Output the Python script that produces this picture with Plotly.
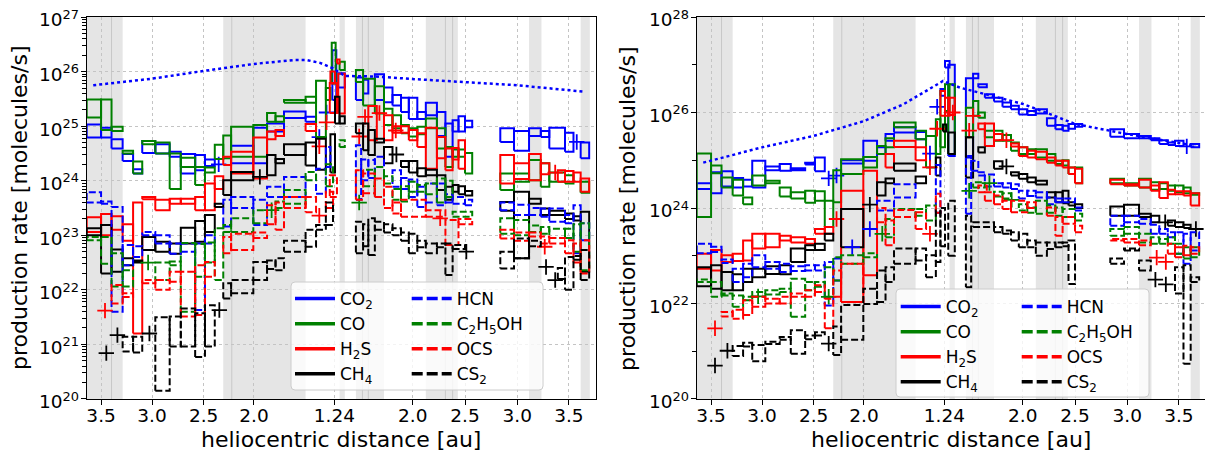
import plotly.graph_objects as go

# ---------------- axis definitions (x = days from perihelion) ----------------
TICK_DAYS = [-357, -279, -200, -123, 0, 120, 200, 280, 359]
TICK_LABELS = ['3.5', '3.0', '2.5', '2.0', '1.24', '2.0', '2.5', '3.0', '3.5']
X_RANGE = [-379, 400]

# shaded intervals (days) and interval boundaries
BANDS = [(-379, -324), (-170, -44), (8, 16), (33, 76), (140, 189), (298, 317), (377, 391)]
BAND_LINES = [-341, -157, 43, 52, 170, 181]

# dotted reference curves (days, log10 rate)
L_REF_T = [-369, -279, -201, -123, -63, -42, -22, -2, 16, 62, 125, 200, 279, 384]
L_REF_V = [25.75, 25.87, 26.01, 26.14, 26.21, 26.21, 26.16, 26.06, 25.92, 25.91, 25.86, 25.80, 25.75, 25.63]
R_REF_T = [-369, -279, -200, -123, -63, -2, 24, 70, 120, 161, 200, 279, 359, 384]
R_REF_V = [24.95, 25.27, 25.51, 25.82, 26.17, 26.66, 26.52, 26.35, 26.18, 25.97, 25.76, 25.55, 25.37, 25.30]

# ---------------- left panel: boxes (t0, t1, log10 low, log10 high) ----------------
L_CO2 = [(-379, -357, 24.79, 25.03), (-357, -341, 24.79, 24.97), (-341, -324, 24.59, 24.76),
         (-324, -308, 24.36, 24.49), (-308, -294, 24.13, 24.21), (-294, -274, 24.51, 24.73),
         (-274, -252, 24.50, 24.67), (-252, -235, 24.44, 24.53), (-235, -213, 24.13, 24.49),
         (-213, -198, 24.19, 24.47), (-198, -183, 24.27, 24.39), (-158, -124, 24.32, 24.64),
         (-124, -103, 24.32, 24.97), (-103, -77, 24.90, 25.05), (-77, -44, 25.15, 25.27),
         (-44, -28, 25.08, 25.17), (-3, 3, 25.48, 26.39), (6, 16, 25.71, 25.97),
         (33, 44, 25.48, 25.89), (44, 52, 25.60, 25.85), (62, 76, 25.48, 25.95),
         (76, 89, 25.44, 25.71), (89, 102, 25.38, 25.57), (102, 114, 25.26, 25.52),
         (114, 127, 25.13, 25.52), (127, 140, 25.13, 25.26), (140, 157, 25.20, 25.43),
         (157, 170, 24.82, 25.26), (170, 181, 24.44, 25.05), (181, 190, 24.90, 25.11),
         (190, 200, 24.90, 25.18), (200, 211, 24.98, 25.10), (254, 275, 24.71, 24.96),
         (275, 298, 24.55, 24.91), (298, 316, 24.82, 24.96), (316, 329, 24.80, 24.91),
         (329, 353, 24.59, 24.97), (353, 366, 24.53, 24.88), (377, 390, 24.41, 24.70)]
L_CO2_PTS = [(-177, 24.30), (-23, 24.80), (-12, 25.25), (371, 24.71)]

L_CO = [(-379, -357, 25.16, 25.49), (-357, -341, 24.93, 25.49), (-341, -324, 24.91, 24.99),
        (-324, -308, 24.50, 24.55), (-308, -294, 24.13, 24.35), (-294, -274, 24.67, 24.73),
        (-274, -252, 24.50, 24.70), (-252, -235, 23.85, 24.50), (-235, -213, 24.25, 24.42),
        (-213, -198, 23.92, 24.25), (-198, -183, 24.15, 24.24), (-183, -170, 24.40, 24.66),
        (-170, -158, 24.41, 24.83), (-158, -124, 24.44, 24.99), (-124, -103, 24.44, 25.02),
        (-103, -90, 25.08, 25.24), (-90, -77, 25.08, 25.18), (-77, -44, 25.43, 25.48),
        (-44, -28, 25.43, 25.54), (-28, -13, 24.80, 25.83), (-13, -6, 25.48, 25.70),
        (-4, 2, 25.78, 26.53), (8, 16, 26.03, 26.18), (33, 44, 25.81, 26.03),
        (44, 62, 25.38, 25.87), (62, 76, 25.23, 25.73), (76, 89, 25.02, 25.32),
        (89, 102, 24.96, 25.20), (102, 114, 24.87, 25.02), (114, 127, 24.81, 24.96),
        (127, 140, 24.85, 24.99), (140, 157, 24.96, 25.14), (157, 170, 24.59, 24.96),
        (170, 181, 24.25, 24.62), (181, 190, 24.44, 24.57), (190, 200, 24.44, 24.57),
        (200, 211, 24.13, 24.51), (254, 275, 23.83, 24.13), (275, 298, 23.98, 24.13),
        (298, 316, 24.01, 24.38), (316, 329, 23.89, 24.32), (329, 353, 23.98, 24.15),
        (353, 366, 23.95, 24.10), (377, 390, 23.78, 23.98)]
L_CO_PTS = []

L_H2S = [(-379, -357, 23.06, 23.33), (-357, -341, 23.00, 23.39), (-341, -324, 23.10, 23.35),
         (-324, -308, 22.90, 23.20), (-308, -294, 21.20, 23.60), (-294, -274, 23.66, 23.70),
         (-274, -252, 23.46, 23.65), (-252, -235, 23.58, 23.67), (-235, -213, 23.58, 23.67),
         (-213, -198, 23.46, 23.70), (-198, -183, 23.46, 23.95), (-183, -170, 23.85, 24.08),
         (-170, -158, 24.29, 24.44), (-158, -124, 24.13, 24.53), (-124, -103, 24.04, 24.79),
         (-103, -90, 24.76, 24.90), (-90, -77, 24.82, 24.93), (-44, -28, 24.91, 25.04),
         (-6, 1, 25.78, 26.00), (4, 8, 26.15, 26.22), (-7, 4, 25.24, 25.79), (6, 16, 25.23, 25.96),
         (52, 65, 24.74, 25.37), (76, 89, 24.74, 25.20), (89, 102, 24.88, 25.00),
         (102, 114, 24.88, 25.00), (114, 127, 24.74, 24.93), (127, 140, 24.62, 24.87),
         (140, 157, 24.22, 24.97), (157, 170, 24.41, 24.80), (170, 181, 24.19, 24.59),
         (181, 190, 24.39, 24.60), (190, 200, 24.22, 24.74), (254, 275, 23.95, 24.47),
         (275, 298, 24.03, 24.32), (298, 316, 24.01, 24.49), (316, 329, 24.12, 24.32),
         (342, 353, 23.98, 24.19), (353, 366, 23.98, 24.18), (366, 377, 23.98, 24.15),
         (377, 390, 23.80, 24.04)]
L_H2S_PTS = [(-12, 25.07), (-23, 24.63), (47, 25.17), (38, 24.81), (69, 25.24), (94, 24.92), (338, 24.15)]

L_CH4 = [(-379, -357, 23.00, 23.13), (-357, -341, 22.30, 23.19), (-341, -324, 22.33, 22.74),
         (-324, -308, 22.45, 22.58), (-308, -294, 22.50, 22.54), (-294, -274, 22.73, 22.97),
         (-274, -252, 22.70, 22.88), (-252, -235, 22.66, 22.85), (-235, -213, 22.85, 23.14),
         (-213, -198, 22.88, 23.26), (-198, -183, 23.06, 23.37), (-183, -170, 23.52, 23.58),
         (-170, -158, 23.74, 24.01), (-158, -124, 24.01, 24.16), (-103, -90, 24.10, 24.47),
         (-90, -77, 24.32, 24.40), (-77, -44, 24.47, 24.67), (-44, -28, 24.28, 24.70),
         (-28, -13, 24.20, 24.77), (-6, 1, 24.15, 24.85), (1, 8, 25.05, 25.54),
         (8, 16, 25.05, 25.18), (33, 44, 24.87, 25.05), (44, 52, 24.56, 25.05),
         (52, 62, 24.47, 24.93), (62, 76, 24.70, 24.77), (76, 89, 24.32, 24.62),
         (102, 114, 24.25, 24.36), (114, 127, 24.15, 24.36), (127, 140, 24.08, 24.23),
         (140, 157, 24.10, 24.20), (157, 170, 23.83, 24.10), (170, 181, 23.65, 23.89),
         (181, 190, 23.80, 23.92), (190, 200, 23.75, 23.90), (200, 211, 23.73, 23.81),
         (254, 275, 23.45, 23.61), (275, 298, 22.58, 23.80), (298, 316, 23.58, 23.67),
         (316, 329, 23.37, 23.49), (329, 353, 23.37, 23.45), (353, 366, 23.30, 23.40),
         (366, 377, 23.27, 23.35), (377, 390, 22.33, 23.43)]
L_CH4_PTS = [(-114, 24.07), (95, 24.48)]

L_HCN = [(-379, -357, 23.60, 23.79), (-357, -341, 23.58, 23.62), (-341, -324, 21.60, 23.52),
         (-324, -308, 22.45, 22.82), (-308, -294, 22.60, 22.80), (-294, -274, 23.00, 23.06),
         (-274, -252, 22.85, 23.00), (-252, -235, 22.66, 22.85), (-235, -213, 22.70, 22.85),
         (-213, -198, 21.63, 22.85), (-198, -183, 22.85, 23.00), (-170, -158, 23.16, 23.65),
         (-158, -124, 23.50, 23.70), (-124, -103, 23.19, 23.65), (-103, -77, 23.70, 23.89),
         (-77, -44, 23.70, 24.07), (-28, -13, 23.76, 24.22), (-13, -6, 24.25, 24.62),
         (33, 41, 23.65, 24.65), (41, 52, 24.01, 24.39), (52, 62, 24.05, 24.38),
         (62, 76, 23.70, 24.44), (89, 102, 23.89, 24.19), (102, 114, 23.85, 24.05),
         (114, 127, 23.70, 24.02), (127, 140, 23.52, 23.89), (140, 157, 23.60, 23.95),
         (157, 170, 23.55, 23.95), (170, 181, 23.60, 23.75), (181, 200, 23.58, 23.70),
         (200, 211, 23.55, 23.65), (254, 275, 23.46, 23.60), (275, 298, 23.37, 23.56),
         (298, 316, 23.37, 23.50), (316, 329, 23.34, 23.49), (329, 353, 23.25, 23.49),
         (353, 366, 23.22, 23.37), (366, 377, 22.67, 23.55), (377, 390, 22.91, 23.22)]
L_HCN_PTS = []

L_C2H5OH = [(-379, -357, 22.91, 22.97), (-357, -341, 22.48, 22.97), (-341, -324, 22.06, 22.67),
            (-324, -308, 22.06, 22.36), (-274, -252, 22.18, 22.50), (-252, -235, 22.45, 22.52),
            (-235, -213, 21.60, 22.86), (-213, -198, 22.24, 22.84), (-198, -183, 22.50, 22.87),
            (-183, -170, 22.18, 23.13), (-170, -158, 23.06, 23.19), (-158, -124, 23.06, 23.31),
            (-124, -103, 23.22, 23.46), (-90, -77, 23.50, 23.62), (-77, -44, 23.58, 23.83),
            (-44, -28, 24.01, 24.16), (-13, -2, 23.90, 24.30), (8, 16, 24.62, 24.74),
            (44, 62, 23.90, 24.20), (62, 76, 23.70, 24.25), (76, 89, 23.95, 24.08),
            (89, 102, 23.65, 23.85), (102, 114, 23.62, 23.90), (114, 127, 23.80, 23.98),
            (127, 140, 23.80, 23.92), (140, 157, 23.75, 23.95), (157, 170, 23.60, 24.04),
            (170, 181, 23.70, 24.00), (181, 211, 23.34, 23.43), (254, 275, 23.03, 23.31),
            (275, 298, 23.00, 23.28), (298, 316, 23.06, 23.18), (316, 329, 23.03, 23.15),
            (329, 353, 22.95, 23.12), (353, 366, 22.95, 23.12), (366, 377, 22.70, 23.20),
            (377, 390, 22.36, 23.22)]
L_C2H5OH_PTS = [(-285, 22.50), (-96, 23.46), (38, 23.60)]

L_OCS = [(-341, -324, 21.75, 22.09), (-324, -308, 21.87, 21.94), (-294, -274, 22.12, 22.18),
         (-274, -252, 22.00, 22.18), (-252, -235, 22.15, 22.33), (-235, -213, 21.51, 22.33),
         (-213, -198, 21.54, 22.45), (-198, -183, 22.24, 22.51), (-170, -158, 22.67, 22.97),
         (-158, -124, 22.73, 23.03), (-124, -103, 22.95, 23.05), (-103, -90, 23.20, 23.55),
         (-90, -77, 23.10, 23.60), (-77, -44, 23.50, 23.70), (-44, -28, 23.42, 23.70),
         (-13, -2, 23.50, 23.80), (-7, 4, 23.70, 24.10), (33, 44, 23.65, 24.19),
         (44, 62, 23.77, 24.13), (62, 76, 23.70, 24.04), (76, 89, 23.50, 23.89),
         (89, 102, 23.40, 23.60), (102, 140, 23.34, 23.65), (140, 170, 23.34, 23.46),
         (170, 190, 22.82, 23.28), (190, 211, 23.20, 23.30), (254, 275, 22.94, 23.10),
         (275, 298, 22.90, 23.05), (298, 316, 22.98, 23.05), (316, 329, 22.85, 22.98),
         (329, 353, 22.85, 22.95), (353, 366, 22.67, 22.91), (366, 377, 22.50, 22.85),
         (377, 390, 22.30, 22.91)]
L_OCS_PTS = [(-351, 21.62), (-23, 23.36), (162, 23.31), (322, 22.79)]

L_CS2 = [(-324, -308, 20.87, 21.14), (-308, -294, 20.85, 21.14), (-274, -252, 20.15, 21.50),
         (-252, -235, 20.96, 21.51), (-235, -213, 20.96, 21.66), (-213, -198, 20.77, 21.57),
         (-198, -183, 20.96, 21.72), (-170, -158, 21.84, 22.12), (-158, -124, 21.94, 22.18),
         (-124, -103, 22.18, 22.51), (-103, -90, 22.38, 22.54), (-90, -77, 22.36, 22.58),
         (-77, -44, 22.70, 22.90), (-44, -28, 22.79, 23.10), (-28, -13, 23.10, 23.19),
         (-13, -2, 23.19, 23.60), (33, 44, 22.67, 23.25), (44, 52, 22.80, 23.20),
         (52, 62, 22.64, 23.31), (62, 76, 23.10, 23.25), (76, 89, 23.05, 23.20),
         (89, 102, 23.00, 23.13), (102, 114, 22.90, 23.05), (114, 127, 22.67, 23.03),
         (127, 140, 22.78, 22.90), (140, 157, 22.67, 22.85), (157, 170, 22.78, 22.85),
         (170, 181, 22.27, 22.85), (181, 200, 22.75, 22.82), (254, 275, 22.39, 22.70),
         (275, 298, 22.58, 22.94), (298, 316, 22.80, 22.90), (342, 353, 22.20, 22.40),
         (353, 366, 22.00, 22.60), (366, 377, 22.55, 22.62), (377, 390, 22.18, 22.73)]
L_CS2_PTS = [(-349, 20.84), (-332, 21.17), (-283, 21.20), (-176, 21.63), (202, 22.70), (324, 22.42), (338, 22.18)]

# ---------------- right panel ----------------
R_CO2 = [(-379, -357, 24.40, 24.52), (-357, -341, 24.31, 24.75), (-341, -324, 24.45, 24.77),
         (-324, -308, 24.43, 24.63), (-308, -294, 24.45, 24.59), (-294, -274, 24.43, 24.99),
         (-274, -252, 24.79, 24.87), (-252, -235, 24.78, 24.92), (-235, -213, 24.79, 24.83),
         (-213, -198, 24.91, 24.95), (-198, -183, 24.77, 25.06), (-158, -124, 24.93, 25.00),
         (-124, -103, 24.99, 25.41), (-103, -90, 25.13, 25.27), (-90, -77, 25.41, 25.55),
         (-77, -44, 25.58, 25.69), (-44, -28, 25.44, 25.59), (-6, 1, 26.35, 26.49),
         (1, 8, 26.94, 27.08), (6, 16, 25.09, 27.00), (33, 44, 25.06, 26.72),
         (44, 52, 26.72, 26.81), (52, 65, 26.53, 26.59), (62, 76, 26.31, 26.38),
         (76, 89, 26.23, 26.31), (89, 102, 26.12, 26.21), (102, 114, 26.07, 26.14),
         (114, 127, 25.96, 26.07), (127, 140, 25.95, 26.03), (140, 157, 25.98, 26.07),
         (157, 170, 25.72, 25.88), (170, 181, 25.65, 25.74), (181, 190, 25.62, 25.72),
         (190, 200, 25.66, 25.76), (200, 211, 25.70, 25.76), (254, 275, 25.49, 25.65),
         (275, 298, 25.46, 25.55), (298, 316, 25.46, 25.51), (316, 329, 25.42, 25.46),
         (329, 342, 25.34, 25.42), (342, 353, 25.32, 25.37), (353, 366, 25.30, 25.41),
         (377, 390, 25.27, 25.34)]
R_CO2_PTS = [(-177, 24.62), (-165, 24.68), (-22, 25.14), (-11, 26.12), (371, 25.29)]

R_CO = [(-379, -357, 23.81, 25.14), (-357, -341, 24.73, 24.89), (-341, -324, 24.43, 24.64),
        (-324, -308, 24.26, 24.59), (-308, -294, 24.08, 24.22), (-294, -274, 24.47, 24.68),
        (-274, -252, 24.52, 24.57), (-252, -235, 24.24, 24.43), (-235, -213, 24.20, 24.33),
        (-213, -198, 24.11, 24.36), (-198, -183, 24.15, 24.35), (-183, -170, 23.60, 24.15),
        (-170, -158, 24.12, 24.79), (-158, -124, 24.71, 25.02), (-124, -103, 24.85, 25.07),
        (-103, -90, 25.13, 25.30), (-90, -77, 25.27, 25.46), (-77, -44, 25.69, 25.79),
        (-44, -28, 25.44, 25.62), (-28, -13, 24.85, 25.51), (-13, -6, 25.13, 25.86),
        (-6, 1, 25.27, 26.45), (1, 8, 26.03, 26.59), (6, 16, 25.13, 26.59),
        (33, 44, 25.48, 26.10), (44, 52, 25.93, 26.24), (52, 62, 25.89, 26.00),
        (62, 76, 25.48, 25.62), (76, 89, 25.41, 25.62), (89, 102, 25.41, 25.53),
        (102, 114, 25.20, 25.37), (114, 127, 25.13, 25.27), (127, 140, 25.13, 25.23),
        (140, 157, 25.06, 25.23), (157, 170, 24.99, 25.13), (170, 181, 24.92, 24.99),
        (181, 190, 24.89, 25.00), (190, 200, 24.71, 24.85), (200, 211, 24.52, 24.85),
        (254, 275, 24.52, 24.61), (275, 298, 24.47, 24.52), (298, 316, 24.43, 24.61),
        (316, 329, 24.38, 24.54), (329, 342, 24.40, 24.52), (342, 353, 24.36, 24.47),
        (353, 366, 24.33, 24.47), (366, 377, 24.31, 24.43), (377, 390, 24.28, 24.31)]
R_CO_PTS = []

R_H2S = [(-379, -357, 22.73, 23.04), (-357, -341, 22.69, 23.12), (-341, -324, 22.87, 23.01),
         (-324, -308, 22.89, 23.04), (-308, -294, 22.90, 23.32), (-294, -274, 23.15, 23.46),
         (-274, -252, 23.18, 23.46), (-252, -235, 23.32, 23.42), (-235, -213, 23.28, 23.39),
         (-213, -198, 23.25, 23.35), (-198, -183, 23.46, 23.56), (-183, -170, 23.46, 23.60),
         (-158, -124, 22.03, 24.36), (-124, -103, 22.59, 24.78), (-90, -77, 24.85, 25.13),
         (-77, -44, 25.28, 25.41), (-44, -28, 25.00, 25.27), (-6, 1, 25.93, 26.45),
         (1, 8, 25.93, 26.31), (6, 16, 25.95, 26.31), (52, 62, 25.65, 25.77),
         (62, 76, 25.30, 25.77), (76, 89, 25.42, 25.55), (102, 114, 25.29, 25.35),
         (114, 127, 25.09, 25.27), (127, 140, 25.06, 25.20), (140, 157, 25.02, 25.18),
         (157, 170, 24.95, 25.06), (170, 181, 24.89, 24.99), (181, 190, 24.85, 24.99),
         (190, 200, 24.71, 24.85), (200, 211, 24.52, 24.82), (254, 275, 24.50, 24.59),
         (275, 298, 24.47, 24.50), (298, 316, 24.43, 24.59), (316, 329, 24.36, 24.47),
         (329, 342, 24.21, 24.54), (342, 353, 24.29, 24.38), (353, 366, 24.29, 24.35),
         (366, 377, 24.26, 24.35), (377, 390, 24.05, 24.31)]
R_H2S_PTS = [(-165, 23.77), (-22, 24.85), (-11, 25.66), (13, 26.00), (38, 25.62), (44, 25.93), (95, 25.42)]

R_CH4 = [(-379, -357, 22.36, 22.76), (-357, -341, 22.31, 22.80), (-341, -324, 22.28, 22.66),
         (-324, -308, 22.28, 22.61), (-308, -294, 22.45, 22.73), (-294, -274, 22.55, 22.73),
         (-274, -252, 22.62, 22.78), (-252, -235, 22.61, 22.80), (-235, -213, 22.87, 23.15),
         (-213, -198, 23.12, 23.22), (-198, -183, 23.12, 23.25), (-183, -170, 23.32, 23.46),
         (-158, -124, 23.18, 23.98), (-103, -90, 24.26, 24.54), (-90, -77, 24.52, 24.62),
         (-77, -44, 24.78, 24.93), (-44, -28, 24.52, 24.66), (-13, -6, 24.68, 25.06),
         (-2, 3, 25.60, 25.75), (6, 16, 25.13, 25.58), (33, 44, 24.64, 25.48),
         (52, 62, 25.16, 25.27), (76, 89, 24.82, 24.98), (102, 114, 24.68, 24.75),
         (114, 127, 24.61, 24.71), (127, 140, 24.54, 24.64), (140, 157, 24.49, 24.57),
         (157, 170, 24.22, 24.33), (170, 181, 24.12, 24.33), (181, 190, 24.10, 24.36),
         (190, 200, 24.05, 24.12), (200, 211, 24.00, 24.08), (254, 275, 23.84, 24.03),
         (275, 298, 23.84, 24.07), (298, 316, 23.81, 23.88), (316, 329, 23.70, 23.84),
         (342, 353, 23.63, 23.74), (353, 366, 23.60, 23.70), (366, 377, 23.58, 23.65)]
R_CH4_PTS = [(-114, 24.07), (95, 24.87), (338, 23.70), (385, 23.56)]

R_HCN = [(-379, -357, 23.05, 23.25), (-357, -341, 23.08, 23.19), (-341, -324, 22.85, 22.92),
         (-324, -308, 22.45, 22.73), (-308, -294, 22.55, 22.83), (-294, -274, 22.76, 23.01),
         (-274, -252, 22.73, 22.87), (-252, -235, 22.66, 22.83), (-235, -213, 22.68, 22.78),
         (-213, -198, 22.69, 22.80), (-198, -183, 22.69, 22.80), (-183, -170, 21.96, 22.87),
         (-170, -158, 22.48, 22.94), (-103, -77, 23.95, 24.15), (-77, -44, 24.22, 24.50),
         (-13, -6, 23.90, 24.90), (33, 41, 23.88, 25.09), (41, 52, 24.78, 24.99),
         (52, 62, 24.68, 24.75), (62, 76, 24.45, 24.70), (76, 89, 24.45, 24.52),
         (89, 102, 24.43, 24.52), (102, 114, 24.40, 24.50), (114, 127, 24.20, 24.36),
         (127, 140, 24.25, 24.36), (140, 157, 24.22, 24.33), (157, 170, 24.08, 24.22),
         (170, 181, 24.12, 24.20), (181, 200, 24.12, 24.20), (200, 211, 23.95, 24.01),
         (254, 275, 23.63, 23.84), (275, 298, 23.70, 23.84), (298, 316, 23.67, 23.77),
         (316, 329, 23.46, 23.65), (329, 342, 23.46, 23.56), (342, 353, 23.39, 23.49),
         (353, 366, 23.04, 23.49), (366, 377, 22.83, 23.46), (377, 390, 23.11, 23.49)]
R_HCN_PTS = [(-141, 23.18), (-114, 23.56)]

R_C2H5OH = [(-379, -357, 22.45, 22.50), (-357, -341, 22.14, 22.45), (-341, -324, 22.17, 22.21),
            (-324, -308, 21.93, 22.17), (-308, -294, 22.07, 22.14), (-294, -274, 22.14, 22.24),
            (-274, -252, 22.19, 22.28), (-252, -235, 22.24, 22.31), (-235, -213, 21.72, 22.52),
            (-213, -198, 22.28, 22.45), (-198, -183, 22.35, 22.45), (-183, -170, 22.14, 22.76),
            (-170, -158, 22.48, 22.97), (-158, -124, 22.83, 23.01), (-124, -103, 22.97, 23.05),
            (-90, -77, 23.39, 23.77), (-77, -44, 23.81, 23.98), (-44, -28, 23.84, 23.98),
            (-28, -13, 23.74, 24.05), (44, 62, 24.43, 24.54), (76, 89, 24.24, 24.34),
            (89, 102, 24.20, 24.31), (114, 127, 23.95, 24.08), (127, 140, 23.90, 24.01),
            (140, 157, 23.88, 24.15), (157, 170, 23.90, 24.05), (170, 181, 23.84, 24.01),
            (181, 200, 23.81, 23.98), (200, 211, 23.74, 23.88), (254, 275, 23.42, 23.56),
            (275, 298, 23.46, 23.60), (298, 316, 23.28, 23.46), (316, 329, 23.25, 23.39),
            (329, 342, 23.25, 23.35), (342, 353, 23.25, 23.39), (353, 366, 23.04, 23.25),
            (366, 377, 22.94, 23.18), (377, 390, 22.97, 23.18)]
R_C2H5OH_PTS = [(-285, 22.15), (-177, 22.14), (-95, 23.46), (38, 24.36), (69, 24.52), (103, 24.17)]

R_OCS = [(-341, -324, 21.73, 21.82), (-324, -308, 21.68, 21.87), (-308, -294, 21.76, 22.07),
         (-294, -274, 21.93, 22.14), (-274, -252, 22.00, 22.10), (-252, -235, 22.00, 22.14),
         (-235, -213, 22.14, 22.21), (-213, -198, 22.14, 22.28), (-198, -183, 22.24, 22.38),
         (-183, -170, 21.48, 22.10), (-170, -158, 22.14, 22.69), (-158, -124, 22.03, 22.83),
         (-103, -90, 23.70, 24.00), (-90, -77, 23.22, 23.74), (-77, -44, 23.81, 23.96),
         (-44, -28, 23.56, 23.91), (-13, -6, 23.90, 24.30), (52, 65, 24.33, 24.47),
         (62, 76, 24.15, 24.33), (76, 89, 24.08, 24.26), (89, 102, 23.98, 24.15),
         (102, 127, 23.91, 24.15), (127, 140, 24.00, 24.12), (157, 170, 23.84, 24.01),
         (170, 181, 23.42, 23.81), (181, 200, 23.67, 23.81), (200, 211, 23.49, 23.63),
         (254, 275, 23.32, 23.35), (275, 298, 23.28, 23.35), (298, 316, 23.22, 23.32),
         (342, 353, 23.04, 23.25), (353, 366, 22.97, 23.18), (366, 377, 23.01, 23.21),
         (377, 390, 23.04, 23.18)]
R_OCS_PTS = [(-351, 21.48), (-22, 23.46), (325, 22.96), (339, 22.87)]

R_CS2 = [(-324, -308, 20.90, 21.11), (-308, -294, 21.10, 21.18), (-294, -274, 20.79, 21.13),
         (-274, -252, 21.15, 21.20), (-252, -235, 21.24, 21.30), (-235, -213, 20.95, 21.44),
         (-213, -198, 21.25, 21.33), (-198, -183, 21.33, 21.40), (-170, -158, 20.92, 21.52),
         (-158, -124, 21.24, 21.97), (-124, -103, 21.99, 22.31), (-103, -90, 22.03, 22.69),
         (-90, -77, 22.45, 22.76), (-77, -44, 22.83, 23.15), (-44, -28, 22.90, 23.15),
         (-28, -13, 22.55, 23.01), (-13, -6, 22.87, 23.95), (-6, 1, 23.20, 24.00),
         (6, 16, 23.00, 24.15), (33, 41, 22.34, 23.84), (44, 76, 23.60, 23.70),
         (76, 89, 23.49, 23.60), (89, 102, 23.46, 23.53), (102, 114, 23.32, 23.49),
         (114, 127, 23.18, 23.46), (127, 140, 23.18, 23.32), (140, 157, 23.00, 23.28),
         (157, 170, 23.14, 23.28), (170, 181, 23.18, 23.28), (181, 190, 23.20, 23.28),
         (190, 200, 22.41, 23.32), (254, 275, 22.83, 22.94), (275, 298, 23.11, 23.15),
         (298, 316, 22.69, 22.90), (353, 366, 22.21, 22.76), (366, 377, 20.74, 22.80),
         (377, 390, 22.45, 22.55)]
R_CS2_PTS = [(-351, 20.70), (-332, 21.01), (-177, 21.16), (323, 22.50), (339, 22.40)]

# species: key, legend label, colour, solid/dashed
SPECIES = [
    ('CO2', 'CO<sub>2</sub>', '#0000ff', 'solid'),
    ('CO', 'CO', '#008000', 'solid'),
    ('H2S', 'H<sub>2</sub>S', '#ff0000', 'solid'),
    ('CH4', 'CH<sub>4</sub>', '#000000', 'solid'),
    ('HCN', 'HCN', '#0000ff', 'dash'),
    ('C2H5OH', 'C<sub>2</sub>H<sub>5</sub>OH', '#008000', 'dash'),
    ('OCS', 'OCS', '#ff0000', 'dash'),
    ('CS2', 'CS<sub>2</sub>', '#000000', 'dash'),
]
LEFT = {'CO2': (L_CO2, L_CO2_PTS), 'CO': (L_CO, L_CO_PTS), 'H2S': (L_H2S, L_H2S_PTS),
        'CH4': (L_CH4, L_CH4_PTS), 'HCN': (L_HCN, L_HCN_PTS), 'C2H5OH': (L_C2H5OH, L_C2H5OH_PTS),
        'OCS': (L_OCS, L_OCS_PTS), 'CS2': (L_CS2, L_CS2_PTS)}
RIGHT = {'CO2': (R_CO2, R_CO2_PTS), 'CO': (R_CO, R_CO_PTS), 'H2S': (R_H2S, R_H2S_PTS),
         'CH4': (R_CH4, R_CH4_PTS), 'HCN': (R_HCN, R_HCN_PTS), 'C2H5OH': (R_C2H5OH, R_C2H5OH_PTS),
         'OCS': (R_OCS, R_OCS_PTS), 'CS2': (R_CS2, R_CS2_PTS)}

FONT = 'DejaVu Sans'
# the page body keeps an 8px margin, so the figure is sized to fill the rest of the window
OFF = 8
W, H = 1213 - OFF, 454 - OFF
DASH_DATA = '7px,3px'
DASH_LEG = '11px,4px'
EPS = 2e-4

fig = go.Figure()


def add_panel(data, ref_t, ref_v, xa, ya):
    for key, label, color, style in SPECIES:
        boxes, pts = data[key]
        xs, ys = [], []
        for t0, t1, lo, hi in boxes:
            a, b = 10.0 ** lo, 10.0 ** hi
            xs += [t0, t1, t1, t0, t0, None]
            ys += [a, a, b, b, a, None]
        fig.add_trace(go.Scatter(
            x=xs, y=ys, mode='lines', xaxis=xa, yaxis=ya, showlegend=False, hoverinfo='skip',
            line=dict(color=color, width=2, dash='solid' if style == 'solid' else DASH_DATA)))
        if pts:
            fig.add_trace(go.Scatter(
                x=[p[0] for p in pts], y=[10.0 ** p[1] for p in pts], mode='markers',
                xaxis=xa, yaxis=ya, showlegend=False, hoverinfo='skip',
                marker=dict(symbol='cross-thin', size=11, line=dict(width=1.8, color=color))))
    fig.add_trace(go.Scatter(
        x=ref_t, y=[10.0 ** v for v in ref_v], mode='lines', xaxis=xa, yaxis=ya,
        showlegend=False, hoverinfo='skip', line=dict(color='#0000ff', width=2.5, dash='dot')))


add_panel(LEFT, L_REF_T, L_REF_V, 'x', 'y')
add_panel(RIGHT, R_REF_T, R_REF_V, 'x2', 'y2')

# legend entries (two columns per panel)
for key, label, color, style in SPECIES:
    for leg_solid, leg_dash, xa, ya in [('legend', 'legend2', 'x', 'y'), ('legend3', 'legend4', 'x2', 'y2')]:
        fig.add_trace(go.Scatter(
            x=[None], y=[None], mode='lines', name=label, xaxis=xa, yaxis=ya,
            legend=leg_solid if style == 'solid' else leg_dash,
            line=dict(color=color, width=3.5, dash='solid' if style == 'solid' else DASH_LEG)))

# shaded bands
shapes = []
for xr in ['x', 'x2']:
    yr = ('y' if xr == 'x' else 'y2') + ' domain'
    for a, b in BANDS:
        shapes.append(dict(type='rect', xref=xr, yref=yr, x0=a, x1=b, y0=0, y1=1,
                           fillcolor='#e5e5e5', line=dict(width=0), layer='below'))
    for t in BAND_LINES:
        shapes.append(dict(type='line', xref=xr, yref=yr, x0=t, x1=t, y0=0, y1=1,
                           line=dict(color='#c8c8c8', width=1), layer='below'))


def px_x(p):
    return (p - OFF) / W


def px_y(p):
    return 1 - (p - OFF) / H


def rounded_box(x0, x1, y0, y1, r=4):
    X0, X1 = px_x(x0), px_x(x1)
    Yt, Yb = px_y(y0), px_y(y1)
    rx, ry = r / W, r / H
    return (f'M {X0 + rx},{Yt} L {X1 - rx},{Yt} Q {X1},{Yt} {X1},{Yt - ry} '
            f'L {X1},{Yb + ry} Q {X1},{Yb} {X1 - rx},{Yb} L {X0 + rx},{Yb} '
            f'Q {X0},{Yb} {X0},{Yb + ry} L {X0},{Yt - ry} Q {X0},{Yt} {X0 + rx},{Yt} Z')


for bx in [(291, 543, 282, 390), (896, 1149, 289, 397)]:
    shapes.append(dict(type='path', xref='paper', yref='paper', path=rounded_box(*bx),
                       fillcolor='rgba(255,255,255,0.8)', line=dict(color='#cccccc', width=1),
                       layer='above'))

YDOM = [px_y(399), px_y(17)]
XDOM1 = [px_x(86.7), px_x(595.7)]
XDOM2 = [px_x(696.7), px_x(1205.7)]

GRID = '#c4c4c4'
tickfont = dict(family=FONT, size=18.5, color='black')
common_x = dict(type='linear', range=X_RANGE, tickmode='array', tickvals=TICK_DAYS, ticktext=TICK_LABELS,
                showgrid=True, gridcolor=GRID, griddash='dot', gridwidth=1,
                showline=True, linecolor='black', linewidth=1.2, mirror=True,
                ticks='outside', ticklen=5, tickwidth=1.2, tickcolor='black', tickfont=tickfont,
                zeroline=False, automargin=False, ticklabelstandoff=-5)

ly_vals = [10.0 ** k for k in range(20, 28)]
ry_vals = [10.0 ** k for k in range(20, 29, 2)]
ly_minor = [m * 10.0 ** k for k in range(20, 27) for m in range(2, 10)]
ry_minor = [10.0 ** k for k in range(21, 28, 2)]

common_y = dict(type='log', showgrid=True, gridcolor=GRID, griddash='dot', gridwidth=1,
                showline=True, linecolor='black', linewidth=1.2, mirror=True,
                ticks='outside', ticklen=5, tickwidth=1.2, tickcolor='black', tickfont=tickfont,
                zeroline=False, automargin=False, tickmode='array', ticklabelstandoff=-2,
                ticklabeloverflow='allow', ticklabelshift=3)

fig.update_layout(
    width=W, height=H, margin=dict(l=0, r=0, t=0, b=0),
    paper_bgcolor='white', plot_bgcolor='white',
    font=dict(family=FONT, color='black'),
    xaxis=dict(domain=XDOM1, anchor='y', **common_x),
    xaxis2=dict(domain=XDOM2, anchor='y2', **common_x),
    yaxis=dict(domain=YDOM, anchor='x', range=[20 - EPS, 27 + EPS], tickvals=ly_vals,
               ticktext=[f'10<sup>{k}</sup>' for k in range(20, 28)],
               minor=dict(tickmode='array', tickvals=ly_minor, ticks='outside', ticklen=3.5,
                          tickwidth=1, tickcolor='black', showgrid=False),
               **common_y),
    yaxis2=dict(domain=YDOM, anchor='x2', range=[20 - EPS, 28 + EPS], tickvals=ry_vals,
                ticktext=[f'10<sup>{k}</sup>' for k in range(20, 29, 2)],
                minor=dict(tickmode='array', tickvals=ry_minor, ticks='outside', ticklen=3.5,
                           tickwidth=1, tickcolor='black', showgrid=False),
                **common_y),
    shapes=shapes,
    showlegend=True,
)

leg_common = dict(xanchor='left', yanchor='top', orientation='v', bgcolor='rgba(0,0,0,0)',
                  borderwidth=0, font=dict(family=FONT, size=17, color='black'),
                  itemwidth=40, tracegroupgap=0, itemclick=False, itemdoubleclick=False)
fig.update_layout(
    legend=dict(x=px_x(290), y=px_y(281), **leg_common),
    legend2=dict(x=px_x(406.7), y=px_y(281), **leg_common),
    legend3=dict(x=px_x(895.7), y=px_y(289), **leg_common),
    legend4=dict(x=px_x(1016.7), y=px_y(289), **leg_common),
)

title_font = dict(family=FONT, size=22, color='black')
annotations = [
    dict(text='production rate [molecules/s]', x=px_x(20), y=px_y(208), xref='paper', yref='paper',
         textangle=-90, showarrow=False, font=title_font, xanchor='center', yanchor='middle'),
    dict(text='production rate [molecules/s]', x=px_x(628), y=px_y(208), xref='paper', yref='paper',
         textangle=-90, showarrow=False, font=title_font, xanchor='center', yanchor='middle'),
    dict(text='heliocentric distance [au]', x=px_x(341), y=px_y(439), xref='paper', yref='paper',
         showarrow=False, font=title_font, xanchor='center', yanchor='middle'),
    dict(text='heliocentric distance [au]', x=px_x(951), y=px_y(439), xref='paper', yref='paper',
         showarrow=False, font=title_font, xanchor='center', yanchor='middle'),
]
fig.update_layout(annotations=annotations)

fig.write_html('out.html')
